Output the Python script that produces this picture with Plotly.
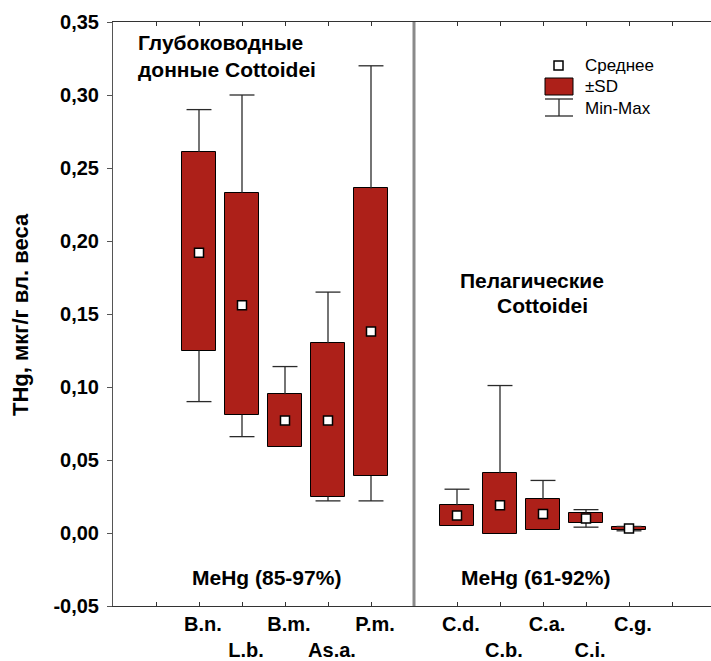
import plotly.graph_objects as go

# ---- data ----
species = ["B.n.", "L.b.", "B.m.", "As.a.", "P.m.", "C.d.", "C.b.", "C.a.", "C.i.", "C.g."]
label_row = [1, 2, 1, 2, 1, 1, 2, 1, 2, 1]
positions = [2, 3, 4, 5, 6, 8, 9, 10, 11, 12]
means = [0.192, 0.156, 0.077, 0.077, 0.138, 0.012, 0.019, 0.013, 0.010, 0.003]
sd_low = [0.125, 0.081, 0.059, 0.025, 0.039, 0.005, -0.001, 0.002, 0.007, 0.002]
sd_high = [0.261, 0.233, 0.095, 0.130, 0.236, 0.019, 0.041, 0.023, 0.014, 0.004]
mins = [0.090, 0.066, 0.059, 0.022, 0.022, 0.005, -0.001, 0.002, 0.004, 0.0015]
maxs = [0.290, 0.300, 0.114, 0.165, 0.320, 0.030, 0.101, 0.036, 0.016, 0.0045]
divider_pos = 7
y_ticks = [-0.05, 0.0, 0.05, 0.10, 0.15, 0.20, 0.25, 0.30, 0.35]
y_ticktext = ["-0,05", "0,00", "0,05", "0,10", "0,15", "0,20", "0,25", "0,30", "0,35"]
x_ticks = list(range(1, 14))

RED = "#AD2019"
FONT = "Liberation Sans, Arial, Helvetica, sans-serif"

W, H = 711, 661
ML, MT, MB = 113, 22, 55
PW, PH = W - ML, H - MT - MB
XMAX = PW / 43.0


def px(x):
    return (x - ML) / PW


def py(y):
    return (MT + PH - y) / PH


fig = go.Figure()

# SD boxes
fig.add_trace(go.Bar(
    x=positions,
    y=[h - l for h, l in zip(sd_high, sd_low)],
    base=sd_low,
    width=0.8,
    marker=dict(color=RED, line=dict(color="black", width=1)),
    showlegend=False,
    hoverinfo="skip",
))

# Min-Max whiskers
cap = 0.29
wx, wy = [], []
for x, lo, hi, mn, mx in zip(positions, sd_low, sd_high, mins, maxs):
    wx += [x, x, None, x, x, None, x - cap, x + cap, None]
    wy += [hi, mx, None, lo, mn, None, mx, mx, None]
    if mn < lo:
        wx += [x - cap, x + cap, None]
        wy += [mn, mn, None]
fig.add_trace(go.Scatter(
    x=wx, y=wy, mode="lines",
    line=dict(color="#2a2a2a", width=1.3),
    showlegend=False, hoverinfo="skip",
))

# Means
fig.add_trace(go.Scatter(
    x=positions, y=means, mode="markers",
    marker=dict(symbol="square", size=9, color="white",
                line=dict(color="black", width=1.5)),
    showlegend=False,
))

ticktext = []
for t in x_ticks:
    if t in positions:
        i = positions.index(t)
        lab = "<b>" + species[i] + "</b>"
        ticktext.append(lab if label_row[i] == 1 else "<br>" + lab)
    else:
        ticktext.append("")

shapes = [
    dict(type="line", xref="x", yref="paper", x0=divider_pos, x1=divider_pos,
         y0=0, y1=1, line=dict(color="#8a8a8a", width=3)),
    # legend
    dict(type="rect", xref="paper", yref="paper", x0=px(554), x1=px(563),
         y0=py(70), y1=py(61), fillcolor="white", line=dict(color="black", width=1.5)),
    dict(type="rect", xref="paper", yref="paper", x0=px(545), x1=px(573),
         y0=py(95), y1=py(78), fillcolor=RED, line=dict(color="black", width=1)),
    dict(type="line", xref="paper", yref="paper", x0=px(559), x1=px(559),
         y0=py(116), y1=py(99), line=dict(color="#2a2a2a", width=1.3)),
    dict(type="line", xref="paper", yref="paper", x0=px(545), x1=px(573),
         y0=py(99), y1=py(99), line=dict(color="#2a2a2a", width=1.3)),
    dict(type="line", xref="paper", yref="paper", x0=px(545), x1=px(573),
         y0=py(116), y1=py(116), line=dict(color="#2a2a2a", width=1.3)),
]

bold = dict(family=FONT, size=21, color="black")
titlef = dict(family=FONT, size=22, color="black")
legf = dict(family=FONT, size=17, color="black")


def ann(text, x, y, font, xanchor="left", angle=0):
    return dict(text=text, xref="paper", yref="paper", x=px(x), y=py(y),
                xanchor=xanchor, yanchor="middle", showarrow=False,
                font=font, textangle=angle, align="left")


annotations = [
    ann("<b>Глубоководные<br>донные Cottoidei</b>", 136, 56, bold),
    ann("<b>Пелагические</b>", 532, 280, bold, "center"),
    ann("<b>Cottoidei</b>", 542, 306, bold, "center"),
    ann("<b>MeHg (85-97%)</b>", 266, 577, bold, "center"),
    ann("<b>MeHg (61-92%)</b>", 535, 577, bold, "center"),
    ann("Среднее", 583, 66, legf),
    ann("±SD", 583, 87, legf),
    ann("Min-Max", 583, 108, legf),
    ann("<b>THg, мкг/г вл. веса</b>", 20, 315, titlef, "center", -90),
]

fig.update_layout(
    width=W, height=H,
    margin=dict(l=ML, r=0, t=MT, b=MB, pad=0),
    plot_bgcolor="white", paper_bgcolor="white",
    font=dict(family=FONT, color="black"),
    shapes=shapes, annotations=annotations,
    bargap=0,
)
fig.update_xaxes(
    range=[0, XMAX], tickvals=x_ticks, ticktext=ticktext,
    ticks="inside", ticklen=4, tickcolor="#333", tickwidth=1,
    showline=True, linecolor="#333", linewidth=1, mirror="ticks",
    showgrid=False, zeroline=False,
    tickfont=dict(family=FONT, size=20, color="black"),
    tickangle=0, ticklabelshift=4,
)
fig.update_yaxes(
    range=[-0.05, 0.35], tickvals=y_ticks,
    ticktext=["<b>" + t + "</b>" for t in y_ticktext],
    ticks="outside", ticklen=5, tickcolor="#555", tickwidth=1,
    showline=True, linecolor="#555", linewidth=1,
    showgrid=False, zeroline=False,
    tickfont=dict(family=FONT, size=20, color="black"),
    ticklabelstandoff=4,
)

fig.write_html("out.html")
